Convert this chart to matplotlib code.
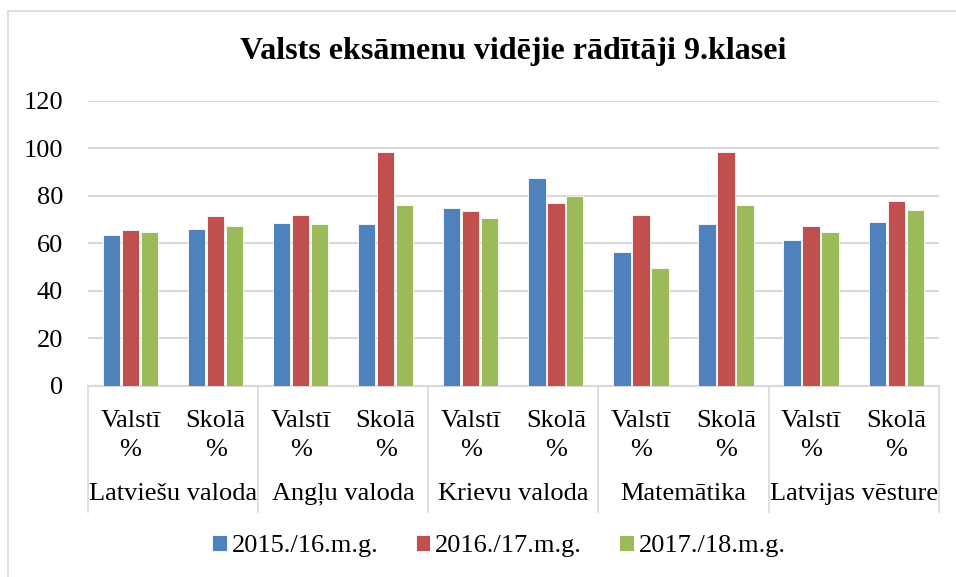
import numpy as np
import matplotlib.pyplot as plt
from matplotlib.patches import Rectangle
from matplotlib.lines import Line2D

# dati
subjects = ["Latviešu valoda", "Angļu valoda", "Krievu valoda", "Matemātika", "Latvijas vēsture"]
sub_labels = ["Valstī\n%", "Skolā\n%"]
series = ["2015./16.m.g.", "2016./17.m.g.", "2017./18.m.g."]
v_2015 = [63.3, 66.0, 68.4, 68.1, 74.9, 87.4, 56.1, 68.1, 61.2, 69.1]
v_2016 = [65.4, 71.6, 72.0, 98.5, 73.4, 76.9, 72.0, 98.5, 67.4, 77.8]
v_2017 = [64.7, 67.2, 67.9, 76.1, 70.6, 79.9, 49.5, 76.1, 64.7, 74.0]
colors = ["#4F81BD", "#C0504D", "#9BBB59"]

plt.rcParams['font.family'] = ['Liberation Serif', 'DejaVu Serif']

fig = plt.figure(figsize=(9.56, 5.77), dpi=100)
W, H = 956, 577
left, right, top, bottom = 88 / W, 938.7 / W, 1 - 100.7 / H, 1 - 385.7 / H
ax = fig.add_axes([left, bottom, right - left, top - bottom])

# rāmis ap visu diagrammu
fig.patches.append(Rectangle((8 / W, -0.01), 1.0, 1 - 11 / H + 0.01, transform=fig.transFigure,
                             fill=False, edgecolor="#D9D9D9", linewidth=1.2))

n = len(v_2015)
x = np.arange(n)
pitch = 0.223
for i, (vals, c, lab) in enumerate(zip([v_2015, v_2016, v_2017], colors, series)):
    ax.bar(x + (i - 1) * pitch, vals, width=pitch - 0.02, color=c, edgecolor="white",
           linewidth=0.6, label=lab, zorder=3)

ax.set_xlim(-0.5, n - 0.5)
ax.set_ylim(0, 120)
ax.set_yticks(range(0, 121, 20))
ax.yaxis.grid(True, color="#D9D9D9", linewidth=1.5, zorder=0)
ax.set_axisbelow(True)
for s in ["top", "right", "left"]:
    ax.spines[s].set_visible(False)
ax.spines["bottom"].set_color("#D9D9D9")
ax.spines["bottom"].set_linewidth(1.5)
ax.tick_params(axis="y", length=0, labelsize=19, pad=18)
ax.set_xticks([])

# divlīmeņu kategoriju ass
trans = ax.get_xaxis_transform()
sep_bottom = (511.7 - 100.7) / (385.7 - 100.7)
for k in range(len(subjects) + 1):
    xs = k * 2 - 0.5
    ax.add_line(Line2D([xs, xs], [0, -(sep_bottom - 1)], transform=trans, color="#D9D9D9",
                       linewidth=1.2, clip_on=False))
for j in range(n):
    ax.text(j, -0.085, sub_labels[j % 2], transform=trans, ha="center", va="top",
            fontsize=19, linespacing=1.4)
for k, s in enumerate(subjects):
    ax.text(2 * k + 0.5, -0.38, s, transform=trans, ha="center", va="center", fontsize=19)

ax.set_title("Valsts eksāmenu vidējie rādītāji 9.klasei", fontsize=23, fontweight="bold",
             pad=30)

ax.legend(loc="center", bbox_to_anchor=(499 / W, (577 - 546) / 577), bbox_transform=fig.transFigure,
          ncol=3, frameon=False, fontsize=19, handlelength=0.55, handleheight=0.55,
          handletextpad=0.2, columnspacing=1.4)

fig.savefig("out.png", dpi=100)
